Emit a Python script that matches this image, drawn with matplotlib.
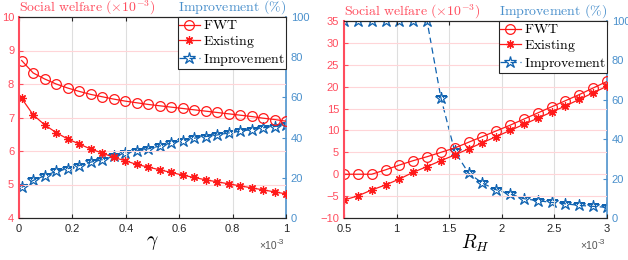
import numpy as np
import matplotlib
matplotlib.use("Agg")
import matplotlib.pyplot as plt
from matplotlib.patches import Polygon

plt.rcParams['mathtext.fontset'] = 'cm'
plt.rcParams['font.family'] = ['Liberation Sans', 'DejaVu Sans']

# left panel: gamma (x1e-3)
gamma = np.linspace(0.01, 1.0, 24)
fwt_g = [8.70, 8.33, 8.15, 8.00, 7.88, 7.78, 7.69, 7.62, 7.55, 7.49, 7.44, 7.39,
         7.35, 7.31, 7.27, 7.23, 7.19, 7.15, 7.11, 7.07, 7.03, 6.98, 6.94, 6.89]
exist_g = [7.57, 7.08, 6.78, 6.55, 6.36, 6.21, 6.06, 5.94, 5.81, 5.71, 5.60, 5.52,
           5.44, 5.36, 5.28, 5.21, 5.14, 5.08, 5.02, 4.96, 4.90, 4.84, 4.78, 4.72]
impr_g = [15.2, 18.7, 21.0, 23.2, 24.5, 26.1, 27.8, 29.0, 30.6, 32.3, 33.4, 34.4,
          35.8, 37.3, 38.5, 39.7, 40.5, 41.3, 42.3, 43.2, 44.0, 44.9, 45.5, 46.2]

# right panel: R_H (x1e-3)
rh = np.linspace(0.5, 3.0, 20)
fwt_r = [0.0, 0.0, 0.0, 1.0, 2.1, 3.1, 4.0, 5.0, 6.0, 7.3, 8.6, 9.9,
         11.2, 12.6, 14.0, 15.4, 16.8, 18.2, 19.7, 21.2]
exist_r = [-5.9, -4.95, -3.6, -2.45, -1.1, 0.45, 1.75, 3.1, 4.4, 5.8, 7.2, 8.6,
           10.0, 11.4, 12.8, 14.2, 15.6, 17.1, 18.6, 20.1]
impr_r = [100, 100, 100, 100, 100, 100, 100, 61, 33.8, 22.8, 17.7, 14.3,
          12.2, 9.8, 8.8, 7.9, 7.2, 6.4, 5.9, 5.4]

RED = '#ff1a1a'
RED_AX = '#ff4d5e'
BLUE = '#0f62b0'
BLUE_AX = '#4a90cc'
PX_W, PX_H = 628, 260


def box(l, t, r, b):
    return [l / PX_W, 1 - b / PX_H, (r - l) / PX_W, (b - t) / PX_H]


def px(n):
    # pixels -> points at dpi 100
    return n * 0.72


def panel(fig, rect, x, fwt, ex, imp, xlim, ylim, yticks, xticks, xlabel):
    ax = fig.add_axes(rect)
    ax2 = ax.twinx()
    ax.set_zorder(ax2.get_zorder() + 1)
    ax.patch.set_visible(False)

    l1, = ax.plot(x, fwt, color=RED, lw=0.9, marker='o', ms=7, mfc='none', mew=0.9)
    l2, = ax.plot(x, ex, color=RED, lw=0.9, marker=(8, 2, 0), ms=6, mew=0.9)
    l3, = ax2.plot(x, imp, color=BLUE, lw=0.9, ls=(0, (5, 3)), marker='*', ms=9,
                   mfc='none', mew=0.9)
    # polygon clip so markers sitting on the top edge get cut like in MATLAB
    clip = Polygon([[0, 0], [1, 0], [1, 1], [0, 1]], closed=True,
                   transform=ax2.transAxes, visible=False)
    ax2.add_patch(clip)
    l3.set_clip_path(clip)

    ax.set_xlim(*xlim)
    ax.set_ylim(*ylim)
    ax2.set_ylim(0, 100)
    ax.set_yticks(yticks)
    ax.set_xticks(xticks)
    ax.set_xticklabels(['%g' % t for t in xticks])
    ax2.set_yticks([0, 20, 40, 60, 80, 100])

    ax.xaxis.grid(True, color='#dedede', lw=0.8)
    ax.yaxis.grid(True, color='#ffd5d8', lw=0.8)
    ax.set_axisbelow(True)

    for a in (ax, ax2):
        a.tick_params(direction='in', labelsize=8, length=3)
        a.spines['top'].set_color('#262626')
        a.spines['bottom'].set_color('#262626')
    ax.tick_params(axis='x', colors='#262626', top=True, pad=4)
    ax.tick_params(axis='y', colors=RED_AX)
    ax2.tick_params(axis='y', colors=BLUE_AX)
    ax.spines['left'].set_color(RED_AX)
    ax.spines['left'].set_linewidth(1.5)
    ax2.spines['left'].set_visible(False)
    ax2.spines['right'].set_color(BLUE_AX)
    ax2.spines['right'].set_linewidth(1.2)
    ax.spines['right'].set_visible(False)

    ax.annotate(r'$\mathrm{Social\ welfare}\ (\times 10^{-3})$', (0, 1),
                xycoords='axes fraction', xytext=(0, px(9.5)), textcoords='offset points',
                color=RED_AX, fontsize=10, ha='left', va='center')
    ax.annotate(r'$\mathrm{Improvement}\ (\%)$', (1, 1),
                xycoords='axes fraction', xytext=(0, px(9.5)), textcoords='offset points',
                color=BLUE_AX, fontsize=10, ha='right', va='center')
    ax.annotate(xlabel, (0.5, 0), xycoords='axes fraction', xytext=(0, -px(25)),
                textcoords='offset points', fontsize=14, ha='center', va='center')
    ax.annotate('\u00d710', (1, 0), xycoords='axes fraction', xytext=(-px(9), -px(28)),
                textcoords='offset points', color='#555555', fontsize=7.5,
                ha='right', va='center')
    ax.annotate('-3', (1, 0), xycoords='axes fraction', xytext=(-px(9), -px(24)),
                textcoords='offset points', color='#555555', fontsize=6,
                ha='left', va='center')

    leg = ax.legend([l1, l2, l3], [r'$\mathrm{FWT}$', r'$\mathrm{Existing}$',
                                   r'$\mathrm{Improvement}$'],
                    loc='upper right', fontsize=10, fancybox=False, framealpha=1,
                    edgecolor='#262626', borderaxespad=0, handlelength=1.5,
                    handletextpad=0.2, borderpad=0.1, labelspacing=0.12)
    leg.get_frame().set_linewidth(0.8)
    return ax


fig = plt.figure(figsize=(6.28, 2.6), dpi=100)
panel(fig, box(19, 17, 286, 218), gamma, fwt_g, exist_g, impr_g, (0, 1), (4, 10),
      [4, 5, 6, 7, 8, 9, 10], [0, 0.2, 0.4, 0.6, 0.8, 1], r'$\gamma$')
panel(fig, box(344, 21, 607, 218), rh, fwt_r, exist_r, impr_r, (0.5, 3), (-10, 35),
      list(range(-10, 36, 5)), [0.5, 1, 1.5, 2, 2.5, 3], r'$R_H$')
fig.savefig('out.png', dpi=100)
